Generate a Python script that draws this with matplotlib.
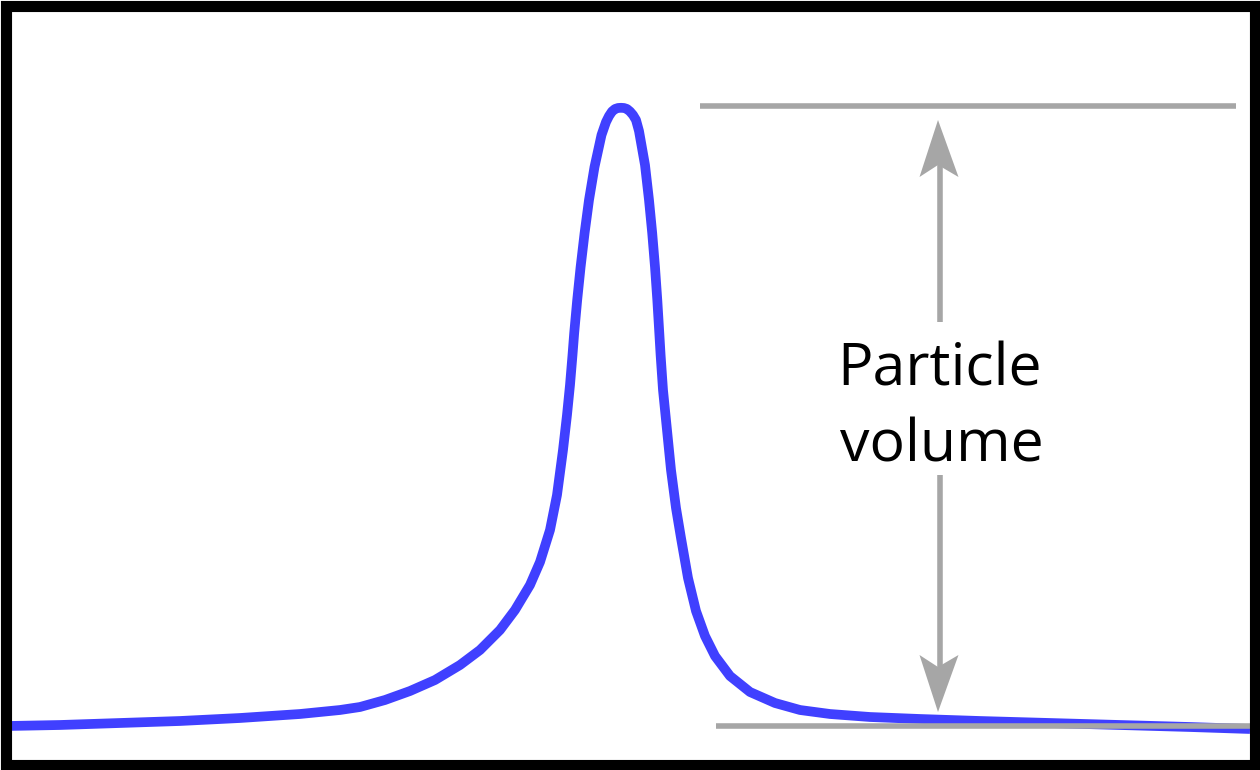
import matplotlib
matplotlib.use("Agg")
import matplotlib.pyplot as plt
from matplotlib.patches import Polygon, Rectangle

# Curve (pixel-space reading of the reference: x position, y position from top)
curve_x = [8, 60, 120, 180, 240, 300, 340, 360, 385, 410, 435, 460, 480, 500,
           515, 530, 540, 550, 557, 563, 567, 570, 572.5, 574.2, 577.2, 580.6, 584.6,
           589, 594.5, 601.5, 606, 609, 612, 615, 618, 621, 624, 627, 630, 633,
           636, 639, 645, 649, 652.2,
           655, 657.3, 659.3, 660.6, 663, 666.5, 671, 676, 681, 688, 696, 705, 715, 730,
           750, 775, 800, 830, 870, 920, 980, 1050, 1120, 1190, 1250]
curve_y = [726, 725, 723, 721, 718, 714, 710, 707, 700, 691, 680, 665, 650, 630,
           610, 585, 562, 530, 495, 450, 415, 385, 355, 333, 300, 267, 233,
           200, 167, 135, 122, 116, 111.5, 109, 108, 107.8, 108, 109, 111.5, 115,
           120, 131, 165, 200, 233,
           267, 300, 333, 355, 390, 425, 470, 508, 538, 578, 611, 636, 656, 676,
           692, 703, 710, 714, 717, 719, 721, 723, 725, 727, 729]

# Reference lines / annotation
top_line = (700, 1236, 106)
base_line = (716, 1250, 726)
arrow_x = 939.5
arrow_top, arrow_bottom = 120, 712
gap_top, gap_bottom = 322, 475
label_lines = ["Particle", "volume"]

W, H = 1260, 770
fig = plt.figure(figsize=(12.6, 7.7), dpi=100)
ax = fig.add_axes([0, 0, 1, 1])
ax.set_xlim(0, W)
ax.set_ylim(H, 0)
ax.axis("off")

grey = "#a6a6a6"
blue = "#4040ff"

ax.plot(curve_x, curve_y, color=blue, lw=7, solid_capstyle="butt", solid_joinstyle="round", zorder=3)

ax.plot([top_line[0], top_line[1]], [top_line[2], top_line[2]], color=grey, lw=4, solid_capstyle="butt", zorder=2)
ax.plot([base_line[0], base_line[1]], [base_line[2], base_line[2]], color=grey, lw=4, solid_capstyle="butt", zorder=4)

# arrow shafts
ax.plot([arrow_x, arrow_x], [arrow_top + 40, gap_top], color=grey, lw=4, solid_capstyle="butt")
ax.plot([arrow_x, arrow_x], [gap_bottom, arrow_bottom - 40], color=grey, lw=4, solid_capstyle="butt")

# arrow heads (barbed)
head_len, head_half, notch = 57, 20, 45
ax.add_patch(Polygon([(arrow_x - 1.5, arrow_top), (arrow_x - head_half, arrow_top + head_len),
                      (arrow_x - 1.5, arrow_top + notch), (arrow_x + head_half - 1, arrow_top + head_len)],
                     closed=True, color=grey, lw=0))
ax.add_patch(Polygon([(arrow_x - 1.5, arrow_bottom), (arrow_x - head_half, arrow_bottom - head_len),
                      (arrow_x - 1.5, arrow_bottom - notch), (arrow_x + head_half - 1, arrow_bottom - head_len)],
                     closed=True, color=grey, lw=0))

ax.text(940, 386, label_lines[0], ha="center", va="baseline", fontsize=42.5, family="Open Sans", color="black")
ax.text(942, 462, label_lines[1], ha="center", va="baseline", fontsize=42.5, family="Open Sans", color="black")

# black frame
ax.add_patch(Rectangle((5.5, 5.5), W - 11, H - 11, fill=False, ec="black", lw=8, zorder=10))

fig.savefig("out.png", dpi=100, facecolor="white")
